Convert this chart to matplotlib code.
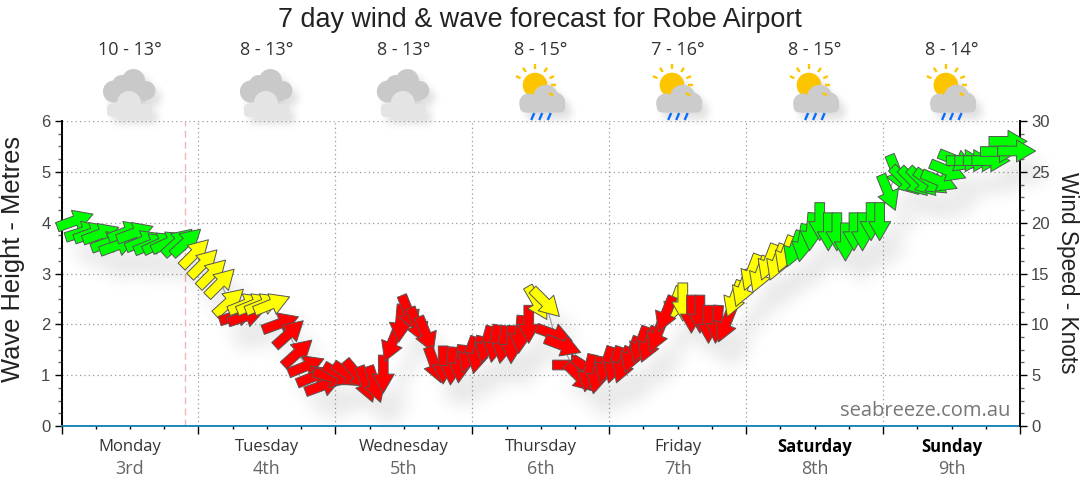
import matplotlib
matplotlib.use('Agg')
import matplotlib.pyplot as plt
import numpy as np
from matplotlib.collections import PolyCollection, PatchCollection
from matplotlib.patches import Circle, FancyBboxPatch, Rectangle
from matplotlib.ticker import MultipleLocator
from matplotlib.transforms import IdentityTransform

plt.rcParams['font.family'] = ['Liberation Sans', 'DejaVu Sans']

# hours since Monday 00:00 (a few hours appear twice, the forecast overlaps itself)
hours = [2.4, 3.9, 5.4, 6.9, 8.4, 9.9, 11.4, 12.9, 14.4, 15.9, 17.4, 18.9, 20.4, 21.9, 23.4,
         24.9, 26.4, 27.9, 29.4, 30.9, 32.4, 32.4, 33.9, 35.4, 36.9, 38.4, 39.9, 41.4, 42.9, 44.4, 45.9,
         47.4, 48.9, 50.4, 51.9, 53.4, 54.9, 56.4, 57.9, 59.4, 60.9, 62.4, 63.9, 65.4, 66.9, 68.4, 69.9,
         71.4, 72.9, 74.4, 75.9, 77.4, 78.9, 80.4, 81.9, 83.4, 84.9, 86.4, 87.9, 89.4, 92.4, 90.9, 92.4, 93.9,
         95.4, 96.9, 98.4, 99.9, 101.4, 102.9, 104.4, 107.4, 105.9, 108.9, 110.4, 111.9, 113.4, 114.9, 116.4, 117.9,
         119.4, 120.9, 122.4, 123.9, 125.4, 126.9, 128.4, 129.9, 131.4, 132.9, 134.4, 135.9, 137.4, 138.9, 140.4, 141.9, 143.4,
         144.9, 146.4, 147.9, 149.4, 150.9, 152.4, 153.9, 155.4, 156.9, 158.4, 159.9, 161.4, 162.9, 164.4, 165.9, 167.4]
wind_knots = [20.2, 19.1, 19.0, 18.9, 18.1, 17.8, 19.1, 19.0, 18.2, 17.9, 18.0, 18.1, 18.1, 18.1, 17.0,
              16.0, 15.0, 14.1, 12.2, 10.9, 10.8, 12.0, 12.0, 12.0, 12.0, 10.1, 9.1, 7.2, 5.9, 4.9, 4.0,
              4.8, 5.0, 5.0, 5.0, 4.1, 4.1, 5.1, 8.1, 10.1, 11.1, 9.9, 9.0, 6.0, 6.0, 5.9, 6.1,
              7.0, 7.0, 8.0, 8.1, 8.0, 8.0, 9.0, 10.0, 12.1, 12.1, 9.0, 7.9, 6.0, 5.6, 4.75, 5.2, 5.0,
              6.0, 6.0, 6.0, 7.0, 8.0, 8.0, 9.0, 11.9, 11.0, 12.2, 11.0, 11.0, 10.0, 10.0, 10.0, 12.5,
              13.5, 15.1, 14.9, 16.1, 16.1, 16.9, 17.4, 18.0, 19.1, 20.1, 19.1, 19.1, 18.1, 19.1, 19.1, 20.1, 20.1,
              22.95, 24.9, 24.1, 24.0, 24.0, 24.0, 24.1, 25.1, 26.1, 26.1, 26.1, 26.1, 26.1, 27.0, 28.0, 27.05]
# compass heading the arrow points to
heading = [70, 73, 70, 70, 70, 70, 70, 70, 68, 68, 65, 65, 48, 48, 45,
           45, 45, 45, 48, 72, 72, 68, 68, 68, 68, 70, 48, 48, 68, 68, 70,
           105, 120, 125, 140, 160, 162, 180, 202, 185, 158, 158, 158, 160, 180, 184, 186,
           200, 192, 195, 190, 190, 182, 185, 180, 150, 135, 110, 111, 90, 122, 135, 192, 192,
           198, 198, 200, 200, 200, 202, 202, 200, 202, 180, 180, 180, 180, 185, 202, 201,
           201, 201, 201, 201, 201, 201, 201, 190, 185, 180, 180, 180, 180, 180, 180, 180, 180,
           158, 158, 135, 135, 135, 125, 113, 112, 112, 90, 90, 90, 90, 90, 90, 90]
band = ['fresh'] * 14 + ['moderate'] * 5 + ['light'] * 2 + ['moderate'] * 4 + ['light'] * 30 \
    + ['moderate'] * 2 + ['light'] * 14 + ['moderate', 'light', 'moderate'] + ['light'] * 5 \
    + ['moderate'] * 7 + ['fresh'] * 27

day_names = ['Monday', 'Tuesday', 'Wednesday', 'Thursday', 'Friday', 'Saturday', 'Sunday']
day_dates = ['3rd', '4th', '5th', '6th', '7th', '8th', '9th']
temps = ['10 - 13°', '8 - 13°', '8 - 13°', '8 - 15°', '7 - 16°', '8 - 15°', '8 - 14°']
icons = ['cloud', 'cloud', 'cloud', 'rain', 'rain', 'rain', 'rain']
now_hour = 21.7

band_colours = {'light': '#ff0000', 'moderate': '#ffff00', 'fresh': '#00ff00'}


def blur_shadow(strength, radius, dx, dy):
    # agg filter: soft grey copy of whatever the artist drew, moved down and right
    def apply(img, dpi):
        pad = radius * 3 + max(dx, dy)
        alpha = np.pad(img[:, :, 3], pad)
        kernel = np.exp(-0.5 * (np.arange(-radius * 2, radius * 2 + 1) / radius) ** 2)
        kernel /= kernel.sum()
        alpha = np.apply_along_axis(lambda r: np.convolve(r, kernel, mode='same'), 0, alpha)
        alpha = np.apply_along_axis(lambda r: np.convolve(r, kernel, mode='same'), 1, alpha)
        alpha = np.roll(alpha, (dy, dx), axis=(0, 1))
        out = np.zeros(alpha.shape + (4,))
        out[:, :, :3] = 0.2
        out[:, :, 3] = np.clip(alpha * strength, 0, 1)
        return out, -pad, -pad
    return apply


def arrow_verts(angle, length=38, shaft=9.7, head=22):
    # arrow in screen pixels, centred on its point, head takes the front half
    half = length / 2
    pts = np.array([(-half, -shaft / 2), (0, -shaft / 2), (0, -head / 2), (half, 0),
                    (0, head / 2), (0, shaft / 2), (-half, shaft / 2)])
    a = np.radians(angle)
    rot = np.array([[np.cos(a), -np.sin(a)], [np.sin(a), np.cos(a)]])
    return pts @ rot.T


def cloud_icon(iax, cx):
    back = [Circle((cx + 3.5, 80.5), 11.5), Circle((cx - 8, 85), 10), Circle((cx - 16, 91.5), 11),
            Circle((cx + 16, 90.5), 9.5), Rectangle((cx - 16, 84), 32, 17)]
    front = [Circle((cx - 1, 103), 12),
             FancyBboxPatch((cx - 23, 103.5), 45, 13.5, boxstyle='round,pad=0,rounding_size=5')]
    return [(back, '#c9c9c9'), (front, '#e4e4e4')]


def rain_icon(iax, cx):
    sx, sy = cx - 5.7, 85
    for ang in [-90, -55, -25, 0, 30, -125, -155]:
        a = np.radians(ang)
        iax.plot([sx + 16 * np.cos(a), sx + 21 * np.cos(a)], [sy + 16 * np.sin(a), sy + 21 * np.sin(a)],
                 color='#fdc500', lw=1.7, solid_capstyle='butt', zorder=4)
    for off in [-6.5, 1.5, 10]:
        iax.plot([cx + off, cx + off - 3], [113, 120], color='#0a6cff', lw=1.7, solid_capstyle='butt', zorder=4)
    sun = [Circle((sx, sy), 12.3)]
    cloud = [Circle((cx + 5, 97.5), 12.7), Circle((cx - 12, 103), 9.5), Circle((cx + 14.5, 102.5), 10),
             Rectangle((cx - 12, 95), 26, 10),
             FancyBboxPatch((cx - 21, 100), 45.5, 12.5, boxstyle='round,pad=0,rounding_size=6')]
    return [(sun, '#fdc500'), (cloud, '#cccccc')]


fig = plt.figure(figsize=(10.8, 4.9), dpi=100)

iax = fig.add_axes([0, 0, 1, 1], zorder=0)
iax.set_xlim(0, 1080)
iax.set_ylim(490, 0)
iax.axis('off')

ax = fig.add_axes([61.5 / 1080, 1 - 426 / 490, (1020 - 61.5) / 1080, 305 / 490], zorder=1)
ax.patch.set_alpha(0)
ax.set_xlim(0, 168)
ax.set_ylim(0, 6)
ax.xaxis.set_major_locator(MultipleLocator(24))
ax.xaxis.set_minor_locator(MultipleLocator(6))
ax.yaxis.set_major_locator(MultipleLocator(1))
ax.yaxis.set_minor_locator(MultipleLocator(0.25))
ax.tick_params(axis='x', which='major', length=5.4, width=1, labelbottom=False)
ax.tick_params(axis='x', which='minor', length=2.5, width=1)
ax.tick_params(axis='y', which='major', length=5, width=1, labelsize=12, labelcolor='#444444', pad=3)
ax.tick_params(axis='y', which='minor', length=3, width=1, color='#666666')
ax.grid(True, which='major', color='#999999', linestyle=(0, (1, 2.5)), linewidth=0.9)
ax.set_axisbelow(True)
ax.spines['top'].set_visible(False)
ax.spines['right'].set_visible(False)
ax.spines['left'].set_linewidth(1.4)
ax.spines['bottom'].set_color('#0a7db5')
ax.spines['bottom'].set_linewidth(1.3)
ax.axvline(now_hour, color='#f2b4b4', linestyle=(0, (5, 3)), linewidth=1)

ax2 = ax.twinx()
ax2.set_zorder(2)
ax2.set_ylim(0, 30)
ax2.yaxis.set_major_locator(MultipleLocator(5))
ax2.yaxis.set_minor_locator(MultipleLocator(1.25))
ax2.tick_params(axis='y', which='major', length=5, width=1, labelsize=12, labelcolor='#444444', pad=3)
ax2.tick_params(axis='y', which='minor', length=3, width=1, color='#666666')
ax2.spines['top'].set_visible(False)
ax2.spines['bottom'].set_visible(False)
ax2.spines['left'].set_visible(False)
ax2.spines['right'].set_linewidth(1.4)

# wind arrows, the shadow is the same shapes pushed through the blur filter
verts = [arrow_verts(90 - h) for h in heading]
offsets = np.column_stack([hours, wind_knots])
shadow = PolyCollection(verts, facecolors='black', edgecolors='none', offsets=offsets,
                        offset_transform=ax2.transData, transform=IdentityTransform(), zorder=2)
shadow.set_agg_filter(blur_shadow(0.33, 6, 8, 12))
shadow.set_clip_on(False)
ax2.add_collection(shadow, autolim=False)
ax2.plot(hours, wind_knots, color='#999999', linewidth=0.8, zorder=3)
arrows = PolyCollection(verts, facecolors=[band_colours[b] for b in band], edgecolors='#555555', linewidths=0.7,
                        offsets=offsets, offset_transform=ax2.transData, transform=IdentityTransform(), zorder=4)
arrows.set_clip_on(False)
ax2.add_collection(arrows, autolim=False)

# forecast strip above and day names below
for i, name in enumerate(day_names):
    mid_hour = 12 + 24 * i
    cx = 61.5 + mid_hour * (1020 - 61.5) / 168
    iax.text(cx, 50, temps[i], ha='center', va='center', fontsize=13, color='#333333', family='Open Sans')
    layers = cloud_icon(iax, cx) if icons[i] == 'cloud' else rain_icon(iax, cx)
    for patches, colour in layers:
        soft = PatchCollection(patches, facecolors='black', edgecolors='none', zorder=1)
        soft.set_agg_filter(blur_shadow(0.15, 4, 6, 7))
        iax.add_collection(soft, autolim=False)
    for patches, colour in layers:
        iax.add_collection(PatchCollection(patches, facecolors=colour, edgecolors='none', zorder=3), autolim=False)
    weekend = name in ('Saturday', 'Sunday')
    iax.text(cx, 447, name, ha='center', va='center', fontsize=12, family='Open Sans',
             color='black' if weekend else '#333333', fontweight='bold' if weekend else 'normal')
    iax.text(cx, 469, day_dates[i], ha='center', va='center', fontsize=13, family='Open Sans',
             color='#666666')

iax.text(540, 20, '7 day wind & wave forecast for Robe Airport', ha='center', va='center',
         fontsize=19.4, color='#222222')
iax.text(13, 259, 'Wave Height - Metres', rotation=90, ha='center', va='center', fontsize=18.4, color='#222222')
iax.text(1067, 273, 'Wind Speed - Knots', rotation=270, ha='center', va='center', fontsize=16.3, color='#222222')
iax.text(1010, 411, 'seabreeze.com.au', ha='right', va='center', fontsize=14.5, color='#777777',
         family='Open Sans', zorder=5)

fig.savefig('out.png', dpi=100)
